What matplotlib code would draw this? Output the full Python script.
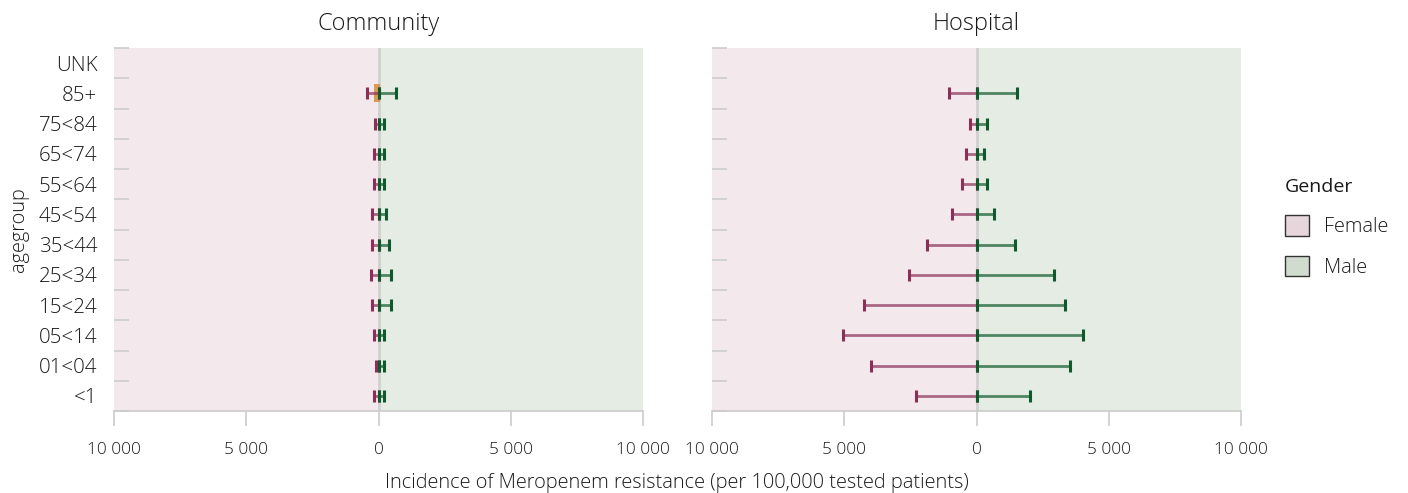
import numpy as np
import matplotlib
matplotlib.use("Agg")
import matplotlib.pyplot as plt
from matplotlib.patches import Patch
from matplotlib.ticker import FixedLocator, FuncFormatter

plt.rcParams['font.family'] = ['Open Sans', 'DejaVu Sans']
plt.rcParams['font.weight'] = 'light'

# age groups, top to bottom
agegroups = ['UNK', '85+', '75<84', '65<74', '55<64', '45<54', '35<44',
             '25<34', '15<24', '05<14', '01<04', '<1']

# upper confidence limits (per 100,000 tested patients); lower limit is 0
community_female = [np.nan, 440, 130, 190, 190, 260, 260, 300, 260, 190, 90, 190]
community_male = [np.nan, 650, 200, 200, 200, 275, 390, 465, 465, 200, 200, 200]
hospital_female = [np.nan, 1030, 240, 390, 540, 920, 1860, 2540, 4240, 5030, 3980, 2280]
hospital_male = [np.nan, 1535, 400, 290, 400, 665, 1460, 2930, 3350, 4030, 3540, 2030]
# flagged cell (small count), drawn as orange marker at zero
community_flag = ['85+']

female_dark = '#8a3058'
male_dark = '#0f5a2c'
female_bg = '#f3e8ec'
male_bg = '#e4ece3'
grid_grey = '#cccccc'
text_col = '#1a1a1a'

fig = plt.figure(figsize=(14.08, 4.93), dpi=100)
ax_c = fig.add_axes([0.081, 0.1663, 0.3757, 0.7363])
ax_h = fig.add_axes([0.5057, 0.1663, 0.3757, 0.7363])

ypos = np.arange(len(agegroups))[::-1]


def draw_panel(ax, female, male, title, flags=()):
    ax.set_xlim(-10000, 10000)
    ax.set_ylim(-0.5, len(agegroups) - 0.5)
    ax.axvspan(-10000, 0, color=female_bg, zorder=0, lw=0)
    ax.axvspan(0, 10000, color=male_bg, zorder=0, lw=0)
    ax.axvline(0, color='#d0d0d0', lw=2, zorder=1)

    for vals, sign, col in [(female, -1, female_dark), (male, 1, male_dark)]:
        vals = np.array(vals, dtype=float)
        ok = ~np.isnan(vals)
        y = ypos[ok]
        hi = vals[ok]
        if sign < 0:
            xerr = [hi, np.zeros_like(hi)]
        else:
            xerr = [np.zeros_like(hi), hi]
        _, caps, bars = ax.errorbar(np.zeros_like(hi), y, xerr=xerr, fmt='none',
                                    ecolor=col, elinewidth=2.0, capsize=4,
                                    capthick=2.2, zorder=3)
        for b in bars:
            b.set_alpha(0.7)

    for f in flags:
        yi = ypos[agegroups.index(f)]
        ax.bar(-60, 0.6, width=200, bottom=yi - 0.3, color='#d68c3c',
               alpha=0.85, zorder=2)

    for s in ['top', 'right', 'left']:
        ax.spines[s].set_visible(False)
    ax.spines['bottom'].set_color(grid_grey)
    ax.spines['bottom'].set_linewidth(1.2)

    ax.set_xticks([-10000, -5000, 0, 5000, 10000])
    ax.xaxis.set_major_formatter(FuncFormatter(
        lambda v, p: f"{abs(int(v)):,}".replace(',', ' ')))
    ax.tick_params(axis='x', length=11, width=1.2, color=grid_grey,
                   labelsize=12.3, labelcolor=text_col, pad=11)

    ax.set_yticks(ypos)
    ax.yaxis.set_minor_locator(FixedLocator(np.arange(-0.5, len(agegroups), 1.0)))
    ax.tick_params(axis='y', which='major', length=0, pad=12)
    ax.tick_params(axis='y', which='minor', direction='in', length=11,
                   width=1.2, color=grid_grey)
    ax.set_title(title, fontsize=17, color=text_col, pad=13, fontweight='light')


draw_panel(ax_c, community_female, community_male, 'Community', community_flag)
draw_panel(ax_h, hospital_female, hospital_male, 'Hospital')

ax_c.set_yticklabels(agegroups, fontsize=14.8, color=text_col)
ax_h.set_yticklabels([])
ax_c.set_ylabel('agegroup', fontsize=14.3, color=text_col, labelpad=7,
                fontweight='light')

fig.text(0.481, 0.0, 'Incidence of Meropenem resistance (per 100,000 tested patients)',
         ha='center', va='bottom', fontsize=14.4, color=text_col)

handles = [Patch(facecolor='#e6d6dc', edgecolor='#333333', lw=1, label='Female'),
           Patch(facecolor='#d0dccd', edgecolor='#333333', lw=1, label='Male')]
leg = fig.legend(handles=handles, title='Gender', loc='upper left',
                 bbox_to_anchor=(0.9, 0.675), frameon=False, fontsize=14.3,
                 title_fontsize=14, handlelength=1.22, handleheight=1.22,
                 labelspacing=0.95, handletextpad=0.75, alignment='left')
for t in leg.get_texts():
    t.set_color(text_col)
leg.get_title().set_color(text_col)
leg.get_title().set_fontweight('normal')

fig.savefig('out.png', dpi=100)
